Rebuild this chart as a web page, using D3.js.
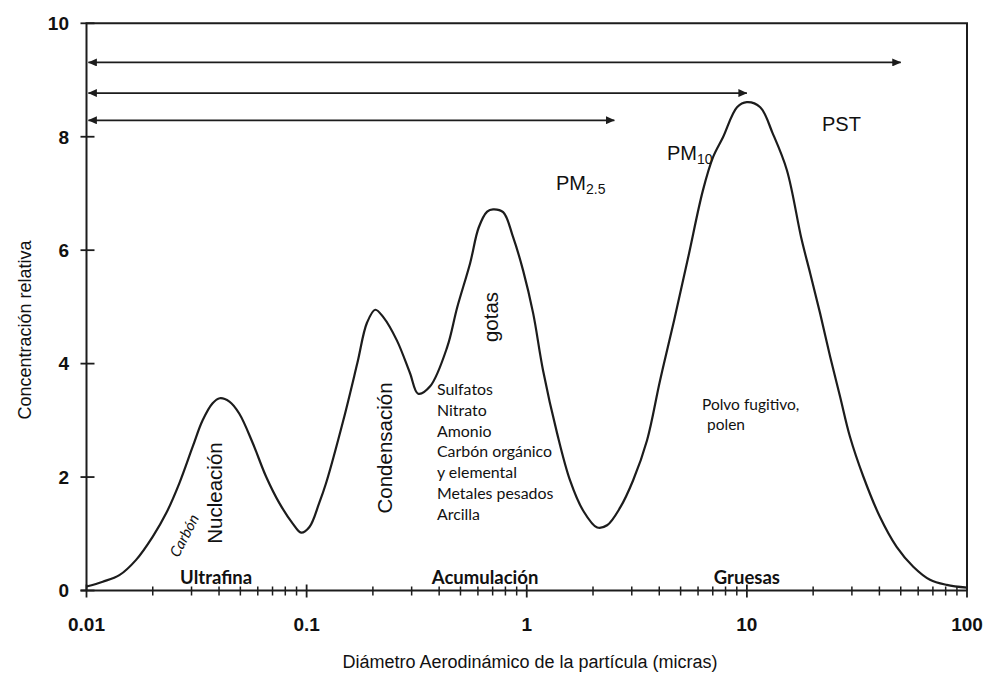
<!DOCTYPE html>
<html>
<head>
<meta charset="utf-8">
<script src="https://cdn.jsdelivr.net/npm/d3@7"></script>
<style>
  body { margin: 0; background: #fff; }
  svg { display: block; }
</style>
</head>
<body>
<svg id="chart" width="989" height="677"></svg>
<script>
"use strict";

// particle diameter (micras) and relative concentration
const diametros = [0.01, 0.01185, 0.0141, 0.0168, 0.02, 0.023, 0.0264, 0.0304, 0.0337, 0.0374, 0.0403,
  0.0446, 0.0494, 0.0569, 0.0654, 0.0752, 0.0865, 0.0944, 0.103, 0.114, 0.1225, 0.147, 0.17, 0.188, 0.205,
  0.223, 0.257, 0.295, 0.321, 0.364, 0.435, 0.483, 0.553, 0.605, 0.661, 0.703, 0.781, 0.867, 0.963,
  1.069, 1.186, 1.374, 1.573, 1.803, 2.09, 2.317, 2.655, 3.04, 3.52, 4.03, 4.67, 5.41, 6.31,
  7.02, 7.79, 9.02, 10.0, 11.5, 13.1, 15.2, 17.7, 19.4, 21.5, 23.9, 26.5, 29.4, 33.8, 40.2, 47.9,
  57, 67.9, 80.9, 100];
const concentracion = [0.07, 0.155, 0.27, 0.54, 0.95, 1.36, 1.89, 2.54, 3.0, 3.3, 3.39,
  3.33, 3.12, 2.6, 2.01, 1.54, 1.18, 1.02, 1.12, 1.54, 1.89, 3.01, 4.01, 4.72, 4.95,
  4.82, 4.41, 3.83, 3.47, 3.6, 4.29, 4.99, 5.77, 6.4, 6.68, 6.72, 6.67, 6.23, 5.64,
  4.89, 3.88, 2.77, 1.94, 1.41, 1.11, 1.15, 1.46, 1.94, 2.65, 3.7, 4.76, 5.87, 7.05,
  7.64, 7.99, 8.52, 8.61, 8.52, 8.06, 7.41, 6.2, 5.59, 4.89, 4.12, 3.42, 2.71, 2.01, 1.3, 0.77,
  0.42, 0.19, 0.1, 0.05];

const xTicks = [0.01, 0.1, 1, 10, 100];
const xTickLabels = ["0.01", "0.1", "1", "10", "100"];
const yTicks = [0, 2, 4, 6, 8, 10];

// size-range arrows: label, upper size limit, level on the y axis
const rangoNombres = ["PST", "PM10", "PM2.5"];
const rangoFin = [50, 10, 2.5];
const rangoNivel = [9.31, 8.77, 8.29];

const modos = ["Ultrafina", "Acumulación", "Gruesas"];
const modoX = [0.0388, 0.647, 10];
const composicion = ["Sulfatos", "Nitrato", "Amonio", "Carbón orgánico", "y elemental", "Metales pesados", "Arcilla"];

const svg = d3.select("#chart");
const plotLeft = 86.5, plotRight = 967, plotTop = 23.3, plotBottom = 590.5;
const ink = "#1c1c1c";

const x = d3.scaleLog().domain([0.01, 100]).range([plotLeft, plotRight]);
const y = d3.scaleLinear().domain([0, 10]).range([plotBottom, plotTop]);

const minorTicks = [];
for (let e = -2; e < 2; e++) {
  for (let k = 2; k <= 9; k++) minorTicks.push(k * Math.pow(10, e));
}

// frame
svg.append("path")
  .attr("d", `M${plotLeft},${plotBottom} V${plotTop} H${plotRight} V${plotBottom}`)
  .attr("fill", "none").attr("stroke", ink).attr("stroke-width", 2);

// x axis
const xAxis = svg.append("g");
xAxis.append("line")
  .attr("x1", plotLeft - 6).attr("x2", plotRight).attr("y1", plotBottom).attr("y2", plotBottom)
  .attr("stroke", ink).attr("stroke-width", 2);
xAxis.selectAll(".minor").data(minorTicks).enter().append("line")
  .attr("x1", d => x(d)).attr("x2", d => x(d))
  .attr("y1", plotBottom - 4).attr("y2", plotBottom + 5)
  .attr("stroke", ink).attr("stroke-width", 1.5);
xAxis.selectAll(".major").data(xTicks).enter().append("line")
  .attr("x1", d => x(d)).attr("x2", d => x(d))
  .attr("y1", plotBottom - 6).attr("y2", plotBottom + 7)
  .attr("stroke", ink).attr("stroke-width", 1.8);
xAxis.selectAll("text").data(xTicks).enter().append("text")
  .attr("x", d => x(d)).attr("y", 631)
  .attr("text-anchor", "middle")
  .attr("font-family", "Liberation Sans, Arial, sans-serif")
  .attr("font-weight", "bold").attr("font-size", 19)
  .attr("fill", "#111")
  .text((d, i) => xTickLabels[i]);

// y axis
const yAxis = svg.append("g");
yAxis.selectAll("line").data(yTicks).enter().append("line")
  .attr("x1", plotLeft - 6).attr("x2", plotLeft + 8)
  .attr("y1", d => y(d)).attr("y2", d => y(d))
  .attr("stroke", ink).attr("stroke-width", 1.8);
yAxis.selectAll("text").data(yTicks).enter().append("text")
  .attr("x", 69).attr("y", d => y(d)).attr("dy", "0.36em")
  .attr("text-anchor", "end")
  .attr("font-family", "Liberation Sans, Arial, sans-serif")
  .attr("font-weight", "bold").attr("font-size", 19)
  .attr("fill", "#111")
  .text(d => d);

// axis titles
svg.append("text")
  .attr("x", 530).attr("y", 668)
  .attr("text-anchor", "middle")
  .attr("font-family", "Liberation Sans, Arial, sans-serif")
  .attr("font-size", 18).attr("fill", "#111")
  .text("Diámetro Aerodinámico de la partícula (micras)");
svg.append("text")
  .attr("transform", "translate(31,330) rotate(-90)")
  .attr("text-anchor", "middle")
  .attr("font-family", "Liberation Sans, Arial, sans-serif")
  .attr("font-size", 18).attr("fill", "#111")
  .text("Concentración relativa");

// arrows
const defs = svg.append("defs");
defs.append("marker")
  .attr("id", "head")
  .attr("viewBox", "0 0 9 8")
  .attr("refX", 8.5).attr("refY", 4)
  .attr("markerWidth", 9).attr("markerHeight", 8)
  .attr("markerUnits", "userSpaceOnUse")
  .attr("orient", "auto-start-reverse")
  .append("path").attr("d", "M0,0 L9,4 L0,8 Z").attr("fill", ink);

svg.selectAll(".rango").data(rangoFin).enter().append("line")
  .attr("x1", x(0.0102)).attr("x2", d => x(d))
  .attr("y1", (d, i) => y(rangoNivel[i])).attr("y2", (d, i) => y(rangoNivel[i]))
  .attr("stroke", ink).attr("stroke-width", 1.8)
  .attr("marker-start", "url(#head)").attr("marker-end", "url(#head)");

// range labels
const rangoPos = [[822, 131], [667, 160], [556, 190]];
rangoNombres.forEach((name, i) => {
  const t = svg.append("text")
    .attr("x", rangoPos[i][0]).attr("y", rangoPos[i][1])
    .attr("font-family", "Liberation Sans, Arial, sans-serif")
    .attr("font-size", 20).attr("fill", "#111");
  if (name.startsWith("PM")) {
    t.append("tspan").text("PM");
    t.append("tspan").attr("font-size", 14).attr("dy", 4).text(name.slice(2));
  } else {
    t.text(name);
  }
});

// distribution curve
const line = d3.line()
  .x((d, i) => x(diametros[i]))
  .y(d => y(d))
  .curve(d3.curveCatmullRom.alpha(0.5));
svg.append("path")
  .datum(concentracion)
  .attr("d", line)
  .attr("fill", "none")
  .attr("stroke", ink).attr("stroke-width", 2.2);

// mode labels along the bottom
svg.selectAll(".modo").data(modos).enter().append("text")
  .attr("x", (d, i) => x(modoX[i])).attr("y", 584)
  .attr("text-anchor", "middle")
  .attr("font-family", "Lato, Open Sans, sans-serif")
  .attr("font-weight", "bold").attr("font-size", 18.5)
  .attr("fill", "#111")
  .text(d => d);

// rotated process labels
const vertical = [["Nucleación", 222, 493], ["Condensación", 392, 448], ["gotas", 498, 317]];
vertical.forEach(([txt, px, py]) => {
  svg.append("text")
    .attr("transform", `translate(${px},${py}) rotate(-90)`)
    .attr("text-anchor", "middle")
    .attr("font-family", "Liberation Sans, Arial, sans-serif")
    .attr("font-size", 20.5).attr("fill", "#111")
    .text(txt);
});
svg.append("text")
  .attr("transform", "translate(189,538) rotate(-63)")
  .attr("text-anchor", "middle")
  .attr("font-family", "Lato, Open Sans, sans-serif")
  .attr("font-style", "italic").attr("font-size", 15)
  .attr("fill", "#111")
  .text("Carbón");

// composition list
svg.append("g").selectAll("text").data(composicion).enter().append("text")
  .attr("x", 437).attr("y", (d, i) => 395 + i * 20.8)
  .attr("font-family", "Lato, Open Sans, sans-serif")
  .attr("font-size", 15.9).attr("fill", "#111")
  .text(d => d);

svg.append("text")
  .attr("x", 702).attr("y", 410)
  .attr("font-family", "Lato, Open Sans, sans-serif")
  .attr("font-size", 15.5).attr("fill", "#111")
  .text("Polvo fugitivo,");
svg.append("text")
  .attr("x", 707).attr("y", 430)
  .attr("font-family", "Lato, Open Sans, sans-serif")
  .attr("font-size", 15.5).attr("fill", "#111")
  .text("polen");
</script>
</body>
</html>
